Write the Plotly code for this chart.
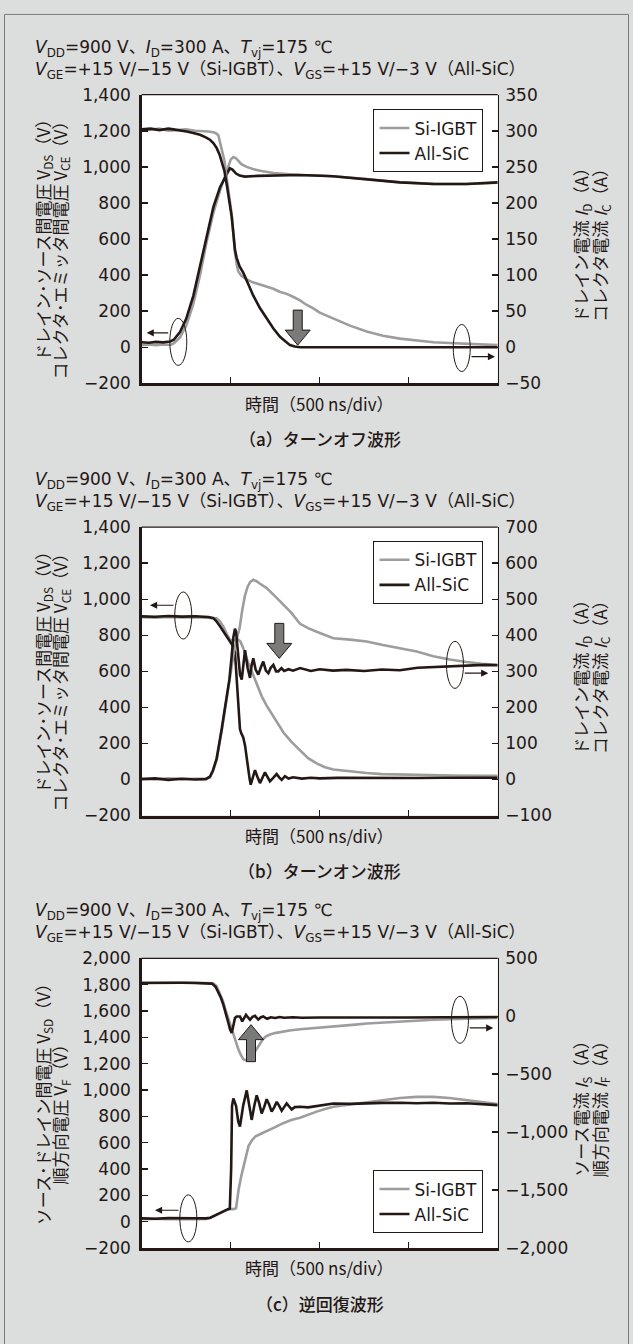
import plotly.graph_objects as go

W, H = 633, 1344
BLACK = '#231815'
GRAY = '#9d9d9d'
ARROW_GRAY = '#7a7a7a'
BG = '#dcdddd'
FONT = 'DejaVu Sans, Noto Sans CJK JP'
CJK = 'Noto Sans CJK JP, DejaVu Sans'

# ---------------- data (time axis in div, 500 ns/div) ----------------
# (a) turn-off
A_T_IGBT_V = [0, 0.08, 0.16, 0.24, 0.32, 0.36, 0.43, 0.5, 0.58, 0.655, 0.73, 0.805, 0.88, 0.955, 1.0, 1.03, 1.06, 1.12, 1.18, 1.25, 1.33, 1.48, 1.63, 1.78, 2.0, 2.15, 2.53, 2.9, 3.28, 3.65, 4.0]
A_IGBT_V = [12, 16, 11, 15, 13, 22, 55, 120, 240, 400, 585, 745, 868, 975, 1040, 1055, 1048, 1015, 1000, 988, 978, 966, 960, 955, 952, 948, 932, 915, 906, 905, 912]
A_T_IGBT_I = [0, 0.1, 0.2, 0.3, 0.4, 0.5, 0.6, 0.7, 0.75, 0.8, 0.83, 0.861, 0.899, 0.93, 0.955, 0.985, 1.011, 1.03, 1.048, 1.07, 1.086, 1.12, 1.179, 1.25, 1.329, 1.404, 1.479, 1.55, 1.629, 1.70, 1.779, 1.85, 1.929, 2.0, 2.153, 2.34, 2.528, 2.71, 2.902, 3.09, 3.277, 3.46, 3.65, 3.82, 4.0]
A_IGBT_I = [300, 302, 303, 300, 301, 302, 300, 300, 299, 298, 297, 294, 276, 258, 235, 208, 185, 157, 131, 113, 105, 99, 94, 90, 87, 84, 81, 77, 74, 70, 65, 59, 54, 48, 40, 30, 22, 16, 12, 9, 7, 6, 5, 4, 3]
A_T_SIC_V = [0, 0.08, 0.16, 0.24, 0.32, 0.36, 0.43, 0.5, 0.58, 0.655, 0.73, 0.805, 0.88, 0.955, 0.99, 1.02, 1.06, 1.1, 1.16, 1.3, 1.5, 1.78, 2.15, 2.53, 2.9, 3.28, 3.65, 4.0]
A_SIC_V = [28, 25, 30, 27, 32, 42, 85, 158, 285, 449, 630, 777, 887, 963, 992, 985, 963, 952, 946, 950, 952, 955, 948, 932, 914, 905, 905, 914]
A_T_SIC_I = [0, 0.1, 0.2, 0.3, 0.355, 0.43, 0.506, 0.58, 0.655, 0.72, 0.767, 0.805, 0.843, 0.875, 0.899, 0.93, 0.955, 0.985, 1.011, 1.03, 1.048, 1.067, 1.10, 1.142, 1.2, 1.254, 1.33, 1.404, 1.48, 1.554, 1.62, 1.666, 1.72, 1.78, 2.0, 2.5, 3.0, 3.5, 4.0]
A_SIC_I = [302, 303, 301, 303, 302, 301, 299, 297, 294.5, 291, 287.6, 283, 276, 267, 258, 244, 226, 205, 181, 158, 135, 124, 112, 103, 86, 71.5, 54, 39.7, 26, 14.6, 7, 3, 1, 0, 0, 0, 0, 0, 0]

# (b) turn-on
B_T_IGBT_V = [0, 0.15, 0.3, 0.45, 0.6, 0.75, 0.84, 0.88, 0.92, 0.955, 0.99, 1.02, 1.05, 1.08, 1.11, 1.14, 1.18, 1.22, 1.254, 1.30, 1.35, 1.404, 1.5, 1.591, 1.68, 1.779, 1.87, 1.966, 2.06, 2.153, 2.34, 2.528, 2.7, 2.9, 3.2, 3.5, 3.8, 4.0]
B_IGBT_V = [900, 898, 902, 899, 901, 899, 895, 878, 845, 808, 778, 770, 775, 778, 765, 730, 670, 620, 585, 520, 460, 410, 330, 262, 210, 160, 118, 89, 68, 55, 45, 36, 30, 27, 24, 22, 21, 20]
B_T_IGBT_I = [0, 0.15, 0.3, 0.45, 0.6, 0.72, 0.767, 0.80, 0.842, 0.87, 0.899, 0.93, 0.955, 0.985, 1.01, 1.04, 1.07, 1.10, 1.13, 1.16, 1.19, 1.22, 1.254, 1.29, 1.33, 1.404, 1.5, 1.59, 1.68, 1.779, 1.87, 1.966, 2.06, 2.153, 2.34, 2.528, 2.71, 2.9, 3.09, 3.277, 3.46, 3.65, 3.82, 4.0]
B_IGBT_I = [2, 0, 3, 1, 2, 2, 6, 22, 55, 90, 135, 185, 225, 270, 315, 360, 392, 420, 470, 510, 535, 548, 554, 550, 543, 531, 508, 486, 463, 432, 420, 410, 400, 392, 388, 383, 373, 365, 355, 342, 333, 326, 321, 318]
B_T_SIC_V = [0, 0.15, 0.3, 0.45, 0.6, 0.75, 0.805, 0.84, 0.88, 0.92, 0.955, 0.99, 1.02, 1.048, 1.067, 1.085, 1.104, 1.12, 1.14, 1.161, 1.18, 1.198, 1.212, 1.225, 1.25, 1.273, 1.30, 1.329, 1.357, 1.385, 1.413, 1.441, 1.48, 1.516, 1.545, 1.573, 1.61, 1.65, 1.7, 1.8, 1.9, 2.0, 2.2, 2.5, 2.8, 3.1, 3.4, 3.7, 4.0]
B_SIC_V = [905, 903, 907, 904, 906, 902, 895, 878, 850, 820, 795, 770, 745, 705, 553, 410, 280, 255, 235, 189, 110, 44, 5, -29, 15, 52, 15, -20, 10, 40, 15, -10, 10, 30, 12, -2, 18, 5, 12, 5, 10, 6, 9, 8, 10, 8, 10, 9, 10]
B_T_SIC_I = [0, 0.15, 0.3, 0.45, 0.6, 0.72, 0.767, 0.80, 0.842, 0.87, 0.899, 0.93, 0.955, 0.985, 1.01, 1.03, 1.048, 1.06, 1.075, 1.09, 1.105, 1.124, 1.142, 1.161, 1.19, 1.217, 1.236, 1.254, 1.28, 1.31, 1.34, 1.366, 1.395, 1.423, 1.45, 1.479, 1.51, 1.535, 1.57, 1.6, 1.65, 1.7, 1.78, 1.9, 2.0, 2.15, 2.3, 2.5, 2.7, 2.9, 3.1, 3.3, 3.5, 3.7, 3.85, 4.0]
B_SIC_I = [1, 3, -1, 2, 0, 1, 8, 25, 58, 95, 140, 190, 231, 277, 340, 395, 418, 410, 370, 320, 290, 277, 320, 359, 310, 282, 318, 336, 305, 291, 312, 327, 302, 295, 310, 318, 300, 300, 309, 301, 306, 302, 309, 301, 306, 302, 304, 301, 305, 303, 310, 312, 315, 316, 318, 317]

# (c) reverse recovery
C_T_IGBT_V = [0, 0.15, 0.3, 0.45, 0.6, 0.72, 0.77, 0.83, 0.88, 0.93, 0.97, 1.0, 1.03, 1.06, 1.09, 1.12, 1.146, 1.17, 1.2, 1.24, 1.28, 1.34, 1.404, 1.5, 1.59, 1.68, 1.779, 1.87, 1.966, 2.06, 2.153, 2.34, 2.528, 2.71, 2.902, 3.09, 3.277, 3.46, 3.65, 3.82, 4.0]
C_IGBT_V = [20, 22, 18, 21, 19, 20, 28, 48, 66, 84, 93, 96, 95, 102, 249, 350, 424, 500, 574, 620, 649, 668, 686, 718, 748, 772, 790, 815, 836, 855, 873, 890, 905, 925, 940, 948, 948, 940, 923, 905, 893]
C_T_IGBT_I = [0, 0.15, 0.3, 0.45, 0.6, 0.72, 0.80, 0.84, 0.88, 0.91, 0.936, 0.96, 0.985, 1.0, 1.03, 1.06, 1.086, 1.115, 1.142, 1.18, 1.215, 1.254, 1.29, 1.33, 1.365, 1.40, 1.45, 1.51, 1.58, 1.66, 1.78, 1.9, 2.03, 2.15, 2.4, 2.53, 2.78, 2.9, 3.28, 3.65, 4.0]
C_IGBT_I = [290, 288, 291, 289, 290, 289, 284, 262, 197, 140, 70, 10, -44, -90, -157, -225, -285, -335, -370, -384, -370, -327, -282, -228, -195, -172, -155, -143, -132, -123, -112, -105, -98, -88, -72, -62, -50, -44, -30, -21, -14]
C_T_SIC_V = [0, 0.15, 0.3, 0.45, 0.6, 0.72, 0.77, 0.83, 0.88, 0.93, 0.97, 0.99, 1.005, 1.015, 1.03, 1.06, 1.085, 1.104, 1.14, 1.18, 1.21, 1.236, 1.265, 1.292, 1.32, 1.348, 1.376, 1.404, 1.432, 1.46, 1.49, 1.517, 1.545, 1.573, 1.60, 1.629, 1.657, 1.685, 1.72, 1.779, 1.87, 1.966, 2.06, 2.153, 2.34, 2.528, 2.71, 2.902, 3.09, 3.277, 3.46, 3.65, 3.82, 4.0]
C_SIC_V = [25, 22, 27, 24, 26, 25, 30, 50, 68, 85, 95, 100, 400, 880, 935, 880, 760, 723, 880, 997, 880, 773, 880, 960, 900, 822, 870, 930, 890, 836, 870, 910, 880, 843, 870, 898, 875, 853, 870, 873, 868, 880, 892, 898, 895, 900, 902, 903, 900, 903, 898, 900, 893, 885]
C_T_SIC_I = [0, 0.15, 0.3, 0.45, 0.6, 0.72, 0.79, 0.83, 0.861, 0.89, 0.918, 0.937, 0.955, 0.975, 0.993, 1.011, 1.03, 1.048, 1.067, 1.085, 1.104, 1.13, 1.15, 1.172, 1.195, 1.217, 1.245, 1.273, 1.29, 1.31, 1.34, 1.366, 1.39, 1.41, 1.45, 1.5, 1.55, 1.6, 1.7, 1.8, 2.0, 2.3, 2.6, 3.0, 3.4, 3.8, 4.0]
C_SIC_I = [288, 290, 287, 289, 288, 288, 282, 255, 211, 160, 98, 50, -2, -60, -115, -143, -80, -15, -2, -5, -2, -44, -15, 13, -10, -30, -5, 4, -12, -27, -8, -2, -14, -21, -8, -15, -6, -12, -8, -12, -10, -12, -9, -11, -8, -10, -6]

# ---------------- ticks ----------------
X_RANGE = [0, 4]
X_TICKS = [1, 2, 3]
AB_LEFT_VALS = [-200, 0, 200, 400, 600, 800, 1000, 1200, 1400]
AB_LEFT_TEXT = ['−200', '0', '200', '400', '600', '800', '1,000', '1,200', '1,400']
A_RIGHT_VALS = [-50, 0, 50, 100, 150, 200, 250, 300, 350]
A_RIGHT_TEXT = ['−50', '0', '50', '100', '150', '200', '250', '300', '350']
B_RIGHT_VALS = [-100, 0, 100, 200, 300, 400, 500, 600, 700]
B_RIGHT_TEXT = ['−100', '0', '100', '200', '300', '400', '500', '600', '700']
C_LEFT_VALS = [-200, 0, 200, 400, 600, 800, 1000, 1200, 1400, 1600, 1800, 2000]
C_LEFT_TEXT = ['−200', '0', '200', '400', '600', '800', '1,000', '1,200', '1,400', '1,600', '1,800', '2,000']
C_RIGHT_VALS = [-2000, -1500, -1000, -500, 0, 500]
C_RIGHT_TEXT = ['−2,000', '−1,500', '−1,000', '−500', '0', '500']

SERIES = ['Si-IGBT', 'All-SiC']

HEADER = ('<i>V</i><sub>DD</sub>=900 V、<i>I</i><sub>D</sub>=300 A、<i>T</i><sub>vj</sub>=175 ℃<br>'
          '<i>V</i><sub>GE</sub>=+15 V/−15 V（Si-IGBT）、<i>V</i><sub>GS</sub>=+15 V/−3 V（All-SiC）')
XTITLE = '時間（500 ns/div）'
CAPTIONS = ['（a）ターンオフ波形', '（b）ターンオン波形', '（c）逆回復波形']
LEFT_TITLES = [
    ['ドレイン･ソース間電圧 V<sub>DS</sub>（V）', 'コレクタ･エミッタ間電圧 V<sub>CE</sub>（V）'],
    ['ドレイン･ソース間電圧 V<sub>DS</sub>（V）', 'コレクタ･エミッタ間電圧 V<sub>CE</sub>（V）'],
    ['ソース･ドレイン間電圧 V<sub>SD</sub>（V）', '順方向電圧 V<sub>F</sub>（V）'],
]
RIGHT_TITLES = [
    ['ドレイン電流 <i>I</i><sub>D</sub>（A）', 'コレクタ電流 <i>I</i><sub>C</sub>（A）'],
    ['ドレイン電流 <i>I</i><sub>D</sub>（A）', 'コレクタ電流 <i>I</i><sub>C</sub>（A）'],
    ['ソース電流 <i>I</i><sub>S</sub>（A）', '順方向電流 <i>I</i><sub>F</sub>（A）'],
]

# ---------------- layout geometry (pixels) ----------------
PLOT_L, PLOT_R = 141.7, 497.7
TOPS = [86, 525, 962.7]
BOTTOMS = [379, 817.7, 1256.7]


def fx(p):
    return p / W


def fy(p):
    return 1 - p / H


XDOM = [fx(PLOT_L), fx(PLOT_R)]

fig = go.Figure()

panels = [
    dict(x='x', yl='y', yr='y2', leg='legend',
         data=[(A_T_IGBT_V, A_IGBT_V, A_T_IGBT_I, A_IGBT_I), (A_T_SIC_V, A_SIC_V, A_T_SIC_I, A_SIC_I)]),
    dict(x='x2', yl='y3', yr='y4', leg='legend2',
         data=[(B_T_IGBT_V, B_IGBT_V, B_T_IGBT_I, B_IGBT_I), (B_T_SIC_V, B_SIC_V, B_T_SIC_I, B_SIC_I)]),
    dict(x='x3', yl='y5', yr='y6', leg='legend3',
         data=[(C_T_IGBT_V, C_IGBT_V, C_T_IGBT_I, C_IGBT_I), (C_T_SIC_V, C_SIC_V, C_T_SIC_I, C_SIC_I)]),
]
colors = [GRAY, BLACK]
for p in panels:
    for k, (tv, v, ti, i) in enumerate(p['data']):
        fig.add_trace(go.Scatter(x=tv, y=v, xaxis=p['x'], yaxis=p['yl'], mode='lines',
                                 name=SERIES[k], legend=p['leg'], showlegend=True,
                                 line=dict(color=colors[k], width=2.6)))
        fig.add_trace(go.Scatter(x=ti, y=i, xaxis=p['x'], yaxis=p['yr'], mode='lines',
                                 name=SERIES[k], legend=p['leg'], showlegend=False,
                                 line=dict(color=colors[k], width=2.6)))


def xaxis_cfg(anchor):
    return dict(domain=XDOM, anchor=anchor, range=X_RANGE, tickvals=X_TICKS, ticks='inside',
                ticklen=6, tickwidth=1.5, tickcolor=BLACK, showticklabels=False, showline=True,
                linecolor=BLACK, linewidth=3, showgrid=False, zeroline=False, fixedrange=True)


def yleft_cfg(i, anchor, vals, text):
    return dict(domain=[fy(BOTTOMS[i]), fy(TOPS[i])], anchor=anchor, range=[vals[0], vals[-1]],
                tickvals=vals, ticktext=text, ticks='inside', ticklen=6, tickwidth=1.5,
                tickcolor=BLACK, showline=True, linecolor=BLACK, linewidth=2.5, showgrid=False,
                zeroline=False, tickfont=dict(size=17, color=BLACK), ticklabelstandoff=5)


def yright_cfg(overlay, anchor, vals, text):
    return dict(overlaying=overlay, anchor=anchor, side='right', range=[vals[0], vals[-1]],
                tickvals=vals, ticktext=text, ticks='inside', ticklen=6, tickwidth=1.5,
                tickcolor=BLACK, showline=True, linecolor=BLACK, linewidth=1.2, showgrid=False,
                zeroline=False, tickfont=dict(size=17, color=BLACK), ticklabelstandoff=3)


def legend_cfg(ytop=None, ybot=None):
    d = dict(x=fx(483.3), xanchor='right', bgcolor='white', bordercolor=BLACK, borderwidth=1.2,
             font=dict(size=17, color=BLACK, family=FONT), itemwidth=30, tracegroupgap=0,
             traceorder='normal')
    if ytop is not None:
        d.update(y=fy(ytop), yanchor='top')
    else:
        d.update(y=fy(ybot), yanchor='bottom')
    return d


def note(text, x, y, xanchor='center', angle=0, size=17, family=FONT, weight=None, align='center'):
    f = dict(size=size, family=family, color=BLACK)
    if weight:
        f['weight'] = weight
    return dict(text=text, xref='paper', yref='paper', x=fx(x), y=fy(y), xanchor=xanchor,
                yanchor='middle', textangle=angle, showarrow=False, font=f, align=align)


annotations = []
for i in range(3):
    top, bot = TOPS[i], BOTTOMS[i]
    mid = (top + bot) / 2
    annotations.append(note(HEADER, 33, top - 36, xanchor='left', align='left'))
    annotations.append(note(LEFT_TITLES[i][0], 43, mid - 3, angle=-90, family=CJK))
    annotations.append(note(LEFT_TITLES[i][1], 60.5, mid + 7, angle=-90, family=CJK))
    annotations.append(note(RIGHT_TITLES[i][0], 581.5, mid + 2, angle=-90, family=CJK))
    annotations.append(note(RIGHT_TITLES[i][1], 600, mid + 2, angle=-90, family=CJK))
    annotations.append(note(XTITLE, 319.7, bot + 20, family=CJK))
    annotations.append(note(CAPTIONS[i], 319.7, bot + 56, family=CJK, weight=500))

# small axis-indicator arrows (tip in data coords, tail offset in px)
small_arrows = [
    ('x', 'y', 0.056, 80, 23), ('x', 'y2', 3.97, -13, -25),
    ('x2', 'y3', 0.093, 967, 25), ('x2', 'y4', 3.894, 295, -25),
    ('x3', 'y5', 0.149, 87, 25), ('x3', 'y6', 3.95, -100, -25),
]
for xr, yr, xv, yv, ax in small_arrows:
    annotations.append(dict(text='', xref=xr, yref=yr, x=xv, y=yv, ax=ax, ay=0, showarrow=True,
                            arrowhead=2, arrowsize=1.3, arrowwidth=1.1, arrowcolor=BLACK))

shapes = []
# ellipses marking which axis a curve belongs to
ellipses = [('x', 'y', 0.411, 30), ('x', 'y2', 3.596, -1), ('x2', 'y3', 0.467, 910),
            ('x2', 'y4', 3.52, 318), ('x3', 'y5', 0.524, 25), ('x3', 'y6', 3.576, -30)]
for xr, yr, xv, yv in ellipses:
    shapes.append(dict(type='circle', xref=xr, yref=yr, xsizemode='pixel', ysizemode='pixel',
                       xanchor=xv, yanchor=yv, x0=-8.5, x1=8.5, y0=-23.5, y1=23.5,
                       line=dict(color=BLACK, width=1)))

# block arrows
DOWN = 'M0,0 L12.5,15 L4.5,15 L4.5,35 L-4.5,35 L-4.5,15 L-12.5,15 Z'
UP = 'M0,0 L12.5,-15 L4.5,-15 L4.5,-37 L-4.5,-37 L-4.5,-15 L-12.5,-15 Z'
for xr, yr, xv, yv, path in [('x', 'y2', 1.753, 3, DOWN), ('x2', 'y4', 1.546, 336, DOWN),
                             ('x3', 'y6', 1.228, -72, UP)]:
    shapes.append(dict(type='path', xref=xr, yref=yr, xsizemode='pixel', ysizemode='pixel',
                       xanchor=xv, yanchor=yv, path=path, fillcolor=ARROW_GRAY,
                       line=dict(color=BLACK, width=1)))

# top frame lines
for xr, yr in [('x', 'y'), ('x2', 'y3'), ('x3', 'y5')]:
    shapes.append(dict(type='line', xref=xr + ' domain', yref=yr + ' domain', x0=0, x1=1, y0=1, y1=1,
                       line=dict(color=BLACK, width=1.2)))

# page border
shapes.append(dict(type='rect', xref='paper', yref='paper', x0=fx(4.5), x1=fx(628.5), y0=-0.01,
                   y1=fy(4.5), line=dict(color='#7a7a7a', width=1), layer='below'))

fig.update_layout(
    width=W, height=H, autosize=False, margin=dict(l=0, r=0, t=0, b=0),
    paper_bgcolor=BG, plot_bgcolor='white',
    font=dict(family=FONT, size=17, color=BLACK),
    xaxis=xaxis_cfg('y'), xaxis2=xaxis_cfg('y3'), xaxis3=xaxis_cfg('y5'),
    yaxis=yleft_cfg(0, 'x', AB_LEFT_VALS, AB_LEFT_TEXT),
    yaxis2=yright_cfg('y', 'x', A_RIGHT_VALS, A_RIGHT_TEXT),
    yaxis3=yleft_cfg(1, 'x2', AB_LEFT_VALS, AB_LEFT_TEXT),
    yaxis4=yright_cfg('y3', 'x2', B_RIGHT_VALS, B_RIGHT_TEXT),
    yaxis5=yleft_cfg(2, 'x3', C_LEFT_VALS, C_LEFT_TEXT),
    yaxis6=yright_cfg('y5', 'x3', C_RIGHT_VALS, C_RIGHT_TEXT),
    legend=legend_cfg(ytop=100.7), legend2=legend_cfg(ytop=539), legend3=legend_cfg(ybot=1241.7),
    annotations=annotations, shapes=shapes, hovermode=False,
)

fig.write_html('out.html', config={'displayModeBar': False, 'staticPlot': True},
               post_script="document.body.style.margin='0px';")
